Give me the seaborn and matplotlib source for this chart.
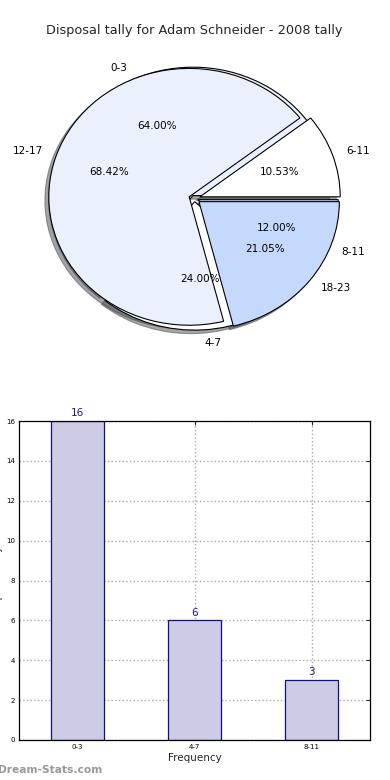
import matplotlib
matplotlib.use("Agg")
import matplotlib.pyplot as plt
import seaborn as sns
import numpy as np

# ---- data ----
title_text = "Disposal tally for Adam Schneider - 2008 tally"
pie1_labels = ["0-3", "4-7", "8-11"]
pie1_values = [16, 6, 3]
pie2_labels = ["6-11", "12-17", "18-23"]
pie2_values = [2, 13, 4]
bar_labels = ["0-3", "4-7", "8-11"]
bar_values = [16, 6, 3]
y_ticks = [0, 2, 4, 6, 8, 10, 12, 14, 16]

sns.set_style("white")
plt.rcParams['font.family'] = ['DejaVu Sans']

W, H = 390, 780
fig = plt.figure(figsize=(W / 100, H / 100), dpi=100)

def px_axes(left, top, right, bottom):
    return fig.add_axes([left / W, 1 - bottom / H, (right - left) / W, (bottom - top) / H])

LIGHT = "#eaf1fd"
WHITE = "#ffffff"
BLUE = "#c5d9fd"

# ---- pie ----
ax1 = px_axes(19, 38, 370, 359)
w1, t1, a1 = ax1.pie(pie1_values, labels=pie1_labels, colors=[LIGHT, WHITE, BLUE],
                     autopct="%.2f%%", startangle=0, shadow=True,
                     explode=[0.025, 0.025, 0.025],
                     labeldistance=1.1, pctdistance=0.6,
                     wedgeprops=dict(edgecolor="black", linewidth=0.8),
                     textprops=dict(fontsize=7.5, color="black"))
w2, t2, a2 = ax1.pie(pie2_values, labels=pie2_labels, colors=[WHITE, LIGHT, BLUE],
                     autopct="%.2f%%", startangle=0, shadow=True,
                     explode=[0.04, 0.04, 0.04],
                     labeldistance=1.1, pctdistance=0.6,
                     wedgeprops=dict(edgecolor="black", linewidth=0.8),
                     textprops=dict(fontsize=7.5, color="black"))
for t in list(t1) + list(a1) + list(t2) + list(a2):
    t.set_zorder(5)
ax1.set_aspect("auto")
ax1.set_xlim(-1.25, 1.25)
ax1.set_ylim(-1.25, 1.25)
ax1.axis("off")
ax1.set_title(title_text, fontsize=9.3, pad=3)

# ---- bar ----
ax2 = px_axes(19, 421, 370, 740)
sns.barplot(x=bar_labels, y=bar_values, ax=ax2, width=0.45, color="#ccccE5",
            saturation=1, edgecolor="#0f0f8a", linewidth=0.9, zorder=2)
ax2.set_xlim(-0.5, 2.5)
ax2.set_ylim(0, 16)
ax2.set_yticks(y_ticks)
ax2.grid(True, linestyle=":", color="#aaaaaa", linewidth=1.0)
for line in ax2.get_xgridlines() + ax2.get_ygridlines():
    line.set_zorder(3)
ax2.tick_params(direction="in", length=3, width=0.6, top=True, right=True,
                labelsize=5, pad=3, colors="black")
for s in ax2.spines.values():
    s.set_visible(True)
    s.set_linewidth(0.9)
    s.set_color("black")
    s.set_zorder(4)
ax2.bar_label(ax2.containers[0], padding=2, color="#1a1a99", fontsize=7.5)
ax2.set_xlabel("Frequency", fontsize=7.5, labelpad=2)
ax2.set_ylabel("Disposal tally", fontsize=7.5)
ax2.yaxis.set_label_coords((3 - 19) / 351, 0.5)

fig.text(-2 / W, 1 - 770 / H, "Dream-Stats.com", color="#999999", fontsize=7.7,
         fontweight="bold", ha="left", va="center")

fig.savefig("out.png", dpi=100)
